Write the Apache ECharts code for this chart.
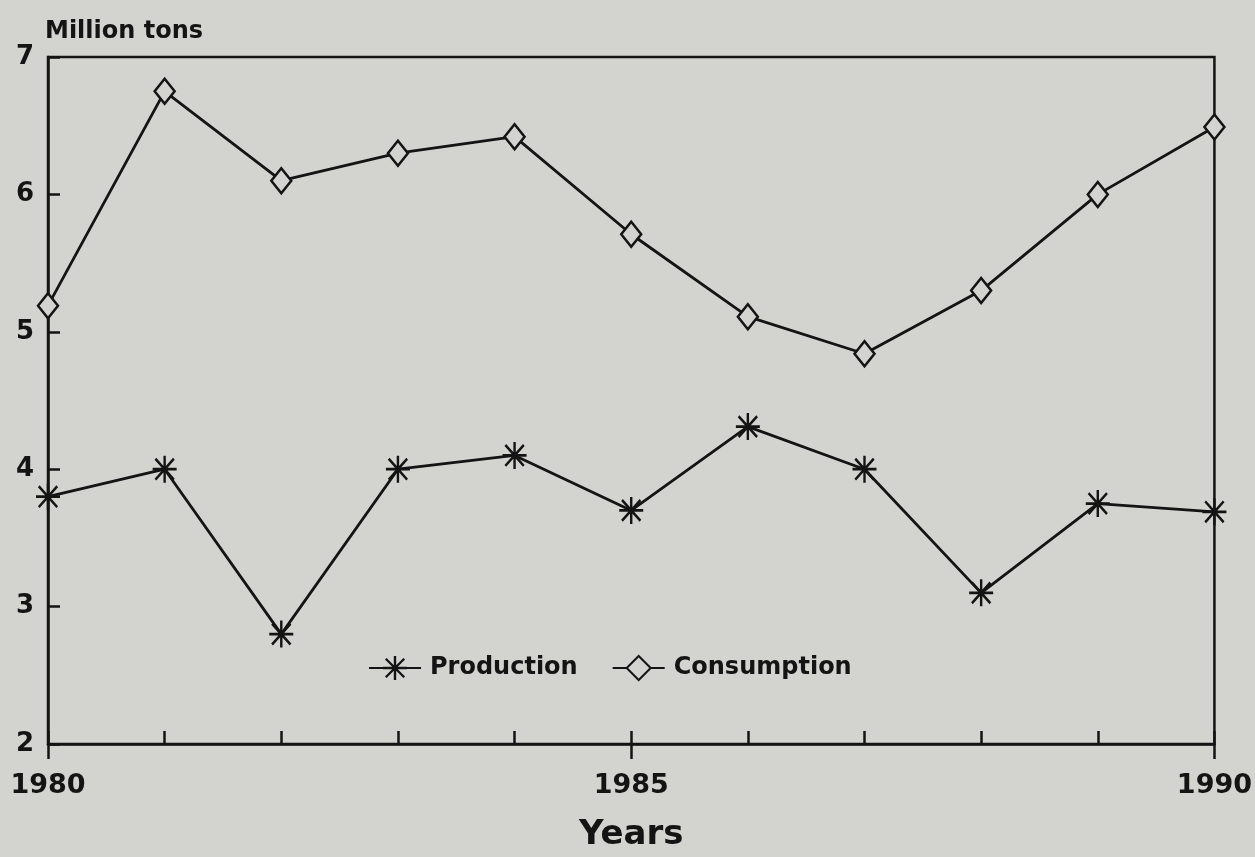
<!DOCTYPE html>
<html style="height: 100%;">
<head>
    <meta charset="UTF-8">
    <script src="https://cdn.jsdelivr.net/npm/echarts@6/dist/echarts.min.js"></script>
</head>
<body style="height: 100%; margin: 0; background: #d3d3d0;">
    <div id="chart" style="width: 1255px; height: 857px;"></div>

    <script type="text/javascript">
        // values
        var years = [1980, 1981, 1982, 1983, 1984, 1985, 1986, 1987, 1988, 1989, 1990];
        var production = [3.8, 4.0, 2.8, 4.0, 4.1, 3.7, 4.31, 4.0, 3.1, 3.75, 3.69];
        var consumption = [5.19, 6.75, 6.1, 6.3, 6.42, 5.71, 5.11, 4.84, 5.3, 6.0, 6.49];

        var ink = '#141414';
        var bg = '#d3d3d0';
        var font = 'DejaVu Sans';

        // eight-armed asterisk marker
        var star = 'path://M9 0H11V20H9Z M0 9H20V11H0Z ' +
            'M1.6 3L3 1.6L18.4 17L17 18.4Z M17 1.6L18.4 3L3 18.4L1.6 17Z';

        var chart = echarts.init(document.getElementById('chart'));

        var option = {
            backgroundColor: bg,
            animation: false,
            title: {
                text: 'Million tons',
                left: 40,
                top: 15,
                textStyle: { fontFamily: font, fontWeight: 'bold', fontSize: 24, color: ink }
            },
            legend: {
                left: 363,
                top: 650,
                itemWidth: 52,
                itemHeight: 30,
                itemGap: 34,
                textStyle: {
                    fontFamily: font, fontWeight: 'bold', fontSize: 24, color: ink,
                    padding: [0, 0, 0, 4]
                },
                data: ['Production', 'Consumption']
            },
            grid: {
                left: 48, right: 37, top: 57, bottom: 112,
                show: true,
                borderColor: ink,
                borderWidth: 2.5,
                backgroundColor: 'transparent'
            },
            xAxis: [
                {
                    type: 'value',
                    min: 1980, max: 1990, interval: 5,
                    name: 'Years',
                    nameLocation: 'middle',
                    nameGap: 74,
                    nameTextStyle: { fontFamily: font, fontWeight: 'bold', fontSize: 34, color: ink },
                    axisLine: { show: true, lineStyle: { color: ink, width: 2.5 } },
                    axisTick: { show: true, inside: false, length: 15, lineStyle: { color: ink, width: 2.5 } },
                    axisLabel: {
                        margin: 28,
                        fontFamily: font, fontWeight: 'bold', fontSize: 27, color: ink,
                        formatter: function (v) { return String(v); }
                    },
                    splitLine: { show: false }
                },
                {
                    type: 'value',
                    position: 'bottom',
                    min: 1980, max: 1990, interval: 1,
                    axisLine: { show: false },
                    axisTick: { show: true, inside: true, length: 13, lineStyle: { color: ink, width: 2.5 } },
                    axisLabel: { show: false },
                    splitLine: { show: false }
                }
            ],
            yAxis: {
                type: 'value',
                min: 2, max: 7, interval: 1,
                axisLine: { show: true, lineStyle: { color: ink, width: 2.5 } },
                axisTick: { show: true, inside: true, length: 12, lineStyle: { color: ink, width: 2.5 } },
                axisLabel: { margin: 14, fontFamily: font, fontWeight: 'bold', fontSize: 26, color: ink },
                splitLine: { show: false }
            },
            series: [
                {
                    name: 'Production',
                    type: 'line',
                    data: years.map(function (y, i) { return [y, production[i]]; }),
                    symbol: star,
                    symbolSize: [24, 27],
                    lineStyle: { color: ink, width: 2.8 },
                    itemStyle: { color: ink }
                },
                {
                    name: 'Consumption',
                    type: 'line',
                    data: years.map(function (y, i) { return [y, consumption[i]]; }),
                    symbol: 'diamond',
                    symbolSize: [20, 25],
                    lineStyle: { color: ink, width: 2.8 },
                    itemStyle: { color: bg, borderColor: ink, borderWidth: 2.5 },
                    z: 3
                }
            ]
        };

        chart.setOption(option);
    </script>
</body>
</html>
